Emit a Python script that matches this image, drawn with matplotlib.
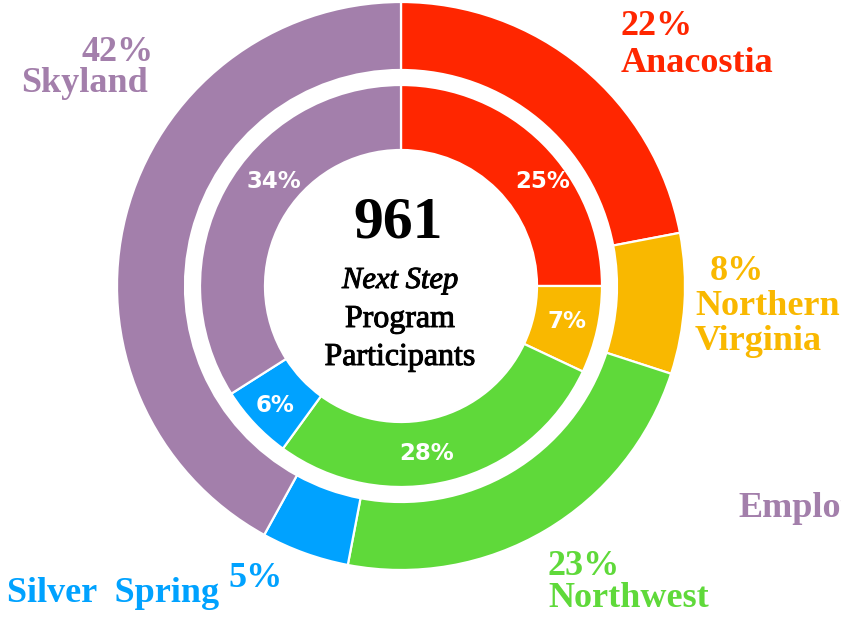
import matplotlib
matplotlib.use("Agg")
import matplotlib.pyplot as plt
import matplotlib.patheffects as pe

W, H = 841, 617

regions = ["Anacostia", "Northern Virginia", "Northwest", "Silver Spring", "Skyland"]
outer_pct = [22, 8, 23, 5, 42]
inner_pct = [25, 7, 28, 6, 34]
colors = ["#ff2600", "#f9b800", "#5fd93a", "#00a2ff", "#a37fab"]
total = 961

SERIF = ["Liberation Serif", "DejaVu Serif"]
SANS = ["DejaVu Sans"]


def py(y):
    # pixel row from the top -> data y
    return H - y


fig = plt.figure(figsize=(W / 100, H / 100), dpi=100)
ax = fig.add_axes([0, 0, 1, 1])

cx, cy = 401, py(286)

ax.pie(outer_pct, colors=colors, startangle=90, counterclock=False,
       radius=284, center=(cx, cy),
       wedgeprops=dict(width=68, edgecolor="white", linewidth=1.6))
ax.pie(inner_pct, colors=colors, startangle=90, counterclock=False,
       radius=201, center=(cx, cy),
       wedgeprops=dict(width=65, edgecolor="white", linewidth=1.6))

ax.set_xlim(0, W)
ax.set_ylim(0, H)
ax.set_aspect("equal")
ax.axis("off")

# inner ring percentages
inner_pos = [(543, 181), (567, 322), (427, 454), (275, 405), (274, 181)]
for p, (x, y) in zip(inner_pct, inner_pos):
    ax.text(x, py(y), f"{p}%", color="white", fontsize=16.5, fontweight="bold",
            family=SANS, ha="center", va="center")

# outer labels
lab = dict(fontsize=26, fontweight="bold", family=SERIF)
ax.text(621, py(35), f"{outer_pct[0]}%", color=colors[0], ha="left", va="baseline", **lab)
ax.text(621, py(72), regions[0], color=colors[0], ha="left", va="baseline", **lab)

ax.text(710, py(280), f"{outer_pct[1]}%", color=colors[1], ha="left", va="baseline", **lab)
ax.text(695, py(315), "Northern", color=colors[1], ha="left", va="baseline", **lab)
ax.text(695, py(350), "Virginia", color=colors[1], ha="left", va="baseline", **lab)

ax.text(548, py(575), f"{outer_pct[2]}%", color=colors[2], ha="left", va="baseline", **lab)
ax.text(548, py(607), regions[2], color=colors[2], ha="left", va="baseline", **lab)

ax.text(7, py(602), "Silver  Spring", color=colors[3], ha="left", va="baseline", **lab)
ax.text(228, py(587), f"{outer_pct[3]}%", color=colors[3], ha="left", va="baseline", **lab)

ax.text(154, py(61), f"{outer_pct[4]}%", color=colors[4], ha="right", va="baseline", **lab)
ax.text(148, py(92), regions[4], color=colors[4], ha="right", va="baseline", **lab)

# the reference cuts this label off at the right edge
ax.text(738, py(517), "Employment", color=colors[4], ha="left", va="baseline",
        clip_on=True, **lab)

# centre
semi = [pe.withStroke(linewidth=0.7, foreground="black")]
ax.text(398, py(237), f"{total}", color="black", fontsize=43, fontweight="bold",
        family=SERIF, ha="center", va="baseline")
ax.text(400, py(288), "Next Step", color="black", fontsize=22, style="italic",
        family=SERIF, ha="center", va="baseline", path_effects=semi)
ax.text(400, py(327), "Program", color="black", fontsize=23,
        family=SERIF, ha="center", va="baseline", path_effects=semi)
ax.text(400, py(365), "Participants", color="black", fontsize=23,
        family=SERIF, ha="center", va="baseline", path_effects=semi)

fig.savefig("out.png", dpi=100)
